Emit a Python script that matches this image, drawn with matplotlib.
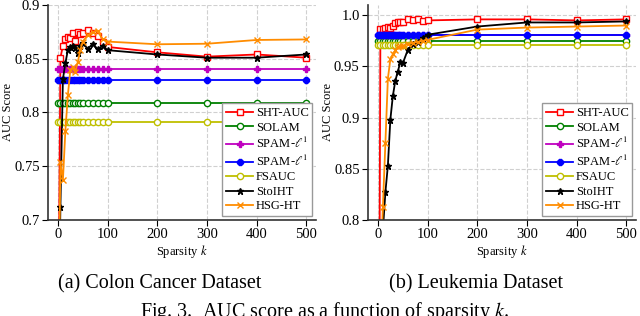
import matplotlib

matplotlib.use("Agg")
import matplotlib.pyplot as plt

plt.rcParams["font.family"] = ["Liberation Serif", "DejaVu Serif"]
plt.rcParams["mathtext.fontset"] = "stix"

# sparsity levels k
k = [1, 5, 10, 15, 20, 25, 30, 35, 40, 45, 50, 60, 70, 80, 90, 100, 200, 300, 400, 500]

# Colon Cancer dataset
colon_sht = [0.60, 0.851, 0.862, 0.868, 0.870, 0.869, 0.874, 0.867, 0.875, 0.873,
             0.874, 0.877, 0.874, 0.871, 0.866, 0.861, 0.856, 0.852, 0.854, 0.851]
colon_solam = [0.809] * len(k)
colon_spam_l1 = [0.8405] * len(k)
colon_spam_l1b = [0.830] * len(k)
colon_fsauc = [0.791] * len(k)
colon_stoiht = [0.60, 0.712, 0.831, 0.846, 0.858, 0.861, 0.862, 0.860, 0.855, 0.862,
                0.865, 0.859, 0.864, 0.859, 0.862, 0.858, 0.854, 0.851, 0.851, 0.854]
colon_hsg = [0.60, 0.754, 0.737, 0.783, 0.816, 0.840, 0.842, 0.838, 0.847, 0.858,
             0.866, 0.872, 0.875, 0.876, 0.868, 0.866, 0.8635, 0.864, 0.8675, 0.868]

# Leukemia dataset
leuk_sht = [0.50, 0.987, 0.987, 0.988, 0.989, 0.988, 0.990, 0.992, 0.993, 0.993,
            0.993, 0.996, 0.995, 0.996, 0.994, 0.995, 0.996, 0.996, 0.995, 0.996]
leuk_solam = [0.975] * len(k)
leuk_spam_l1 = [0.981] * len(k)
leuk_spam_l1b = [0.981] * len(k)
leuk_fsauc = [0.9707] * len(k)
leuk_stoiht = [0.50, 0.60, 0.79, 0.827, 0.853, 0.898, 0.921, 0.936, 0.945, 0.954,
               0.953, 0.966, 0.972, 0.974, 0.978, 0.981, 0.989, 0.993, 0.993, 0.994]
leuk_hsg = [0.50, 0.75, 0.813, 0.875, 0.938, 0.957, 0.962, 0.966, 0.969, 0.970,
            0.970, 0.972, 0.973, 0.974, 0.975, 0.976, 0.986, 0.988, 0.989, 0.990]

labels = ["SHT-AUC", "SOLAM", r"SPAM-$\ell^1$", r"SPAM-$\ell^1$", "FSAUC", "StoIHT", "HSG-HT"]
styles = [
    dict(color="red", marker="s", ms=5, mfc="white"),
    dict(color="green", marker="o", ms=4.5, mfc="white"),
    dict(color="m", marker="P", ms=5),
    dict(color="blue", marker="8", ms=5),
    dict(color="#bfbf00", marker="o", ms=4.5, mfc="white"),
    dict(color="black", marker="*", ms=4.5),
    dict(color="darkorange", marker="x", ms=5),
]


def draw(ax, series, ylim, yticks, yticklabels):
    for y, lab, st in zip(series, labels, styles):
        ax.plot(k, y, label=lab, lw=1.3, mew=1.0, **st)
    ax.set_xlim(-20, 520)
    ax.set_ylim(*ylim)
    ax.set_xticks([0, 100, 200, 300, 400, 500])
    ax.set_yticks(yticks)
    ax.set_yticklabels(yticklabels)
    ax.tick_params(labelsize=10.5, length=4, pad=2)
    ax.grid(True, ls="--", color="#d0d0d0", lw=0.8)
    for s in ("top", "right"):
        ax.spines[s].set_visible(False)
    for s in ("left", "bottom"):
        ax.spines[s].set_linewidth(1.2)
        ax.spines[s].set_color("#333333")
    ax.set_xlabel("Sparsity $k$", fontsize=9, labelpad=1)
    ax.set_ylabel("AUC Score", fontsize=9)
    ax.yaxis.set_label_coords(-0.128, 0.5)
    ax.legend(loc="lower right", fontsize=9, labelspacing=0.2, handlelength=2.2,
              handletextpad=0.2, borderpad=0.3, borderaxespad=0.3, fancybox=False,
              edgecolor="#999999", framealpha=1)


fig = plt.figure(figsize=(6.4, 3.16), dpi=100)
ax1 = fig.add_axes([0.075, 0.304, 0.419, 0.68])
ax2 = fig.add_axes([0.575, 0.304, 0.419, 0.68])

draw(ax1, [colon_sht, colon_solam, colon_spam_l1, colon_spam_l1b, colon_fsauc, colon_stoiht, colon_hsg],
     (0.7, 0.9), [0.7, 0.75, 0.8, 0.85, 0.9], ["0.7", "0.75", "0.8", "0.85", "0.9"])
draw(ax2, [leuk_sht, leuk_solam, leuk_spam_l1, leuk_spam_l1b, leuk_fsauc, leuk_stoiht, leuk_hsg],
     (0.8, 1.01), [0.8, 0.85, 0.9, 0.95, 1.0], ["0.8", "0.85", "0.9", "0.95", "1.0"])

fig.text(160 / 640, 1 - 288 / 316, "(a) Colon Cancer Dataset", ha="center", va="baseline", fontsize=14.5)
fig.text(476 / 640, 1 - 288 / 316, "(b) Leukemia Dataset", ha="center", va="baseline", fontsize=14.5)
fig.text(325 / 640, 1 - 317 / 316, "Fig. 3.  AUC score as a function of sparsity $k$.",
         ha="center", va="baseline", fontsize=14.5)

fig.savefig("out.png", dpi=100)
